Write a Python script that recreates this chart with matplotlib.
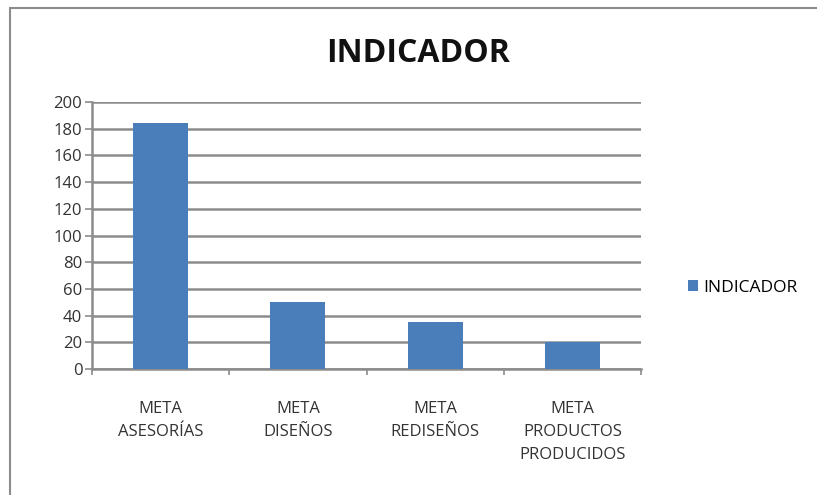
import matplotlib.pyplot as plt
from matplotlib.patches import Rectangle

categorias = ["META\nASESORÍAS", "META\nDISEÑOS", "META\nREDISEÑOS", "META\nPRODUCTOS\nPRODUCIDOS"]
indicador = [184, 50, 35, 20]
serie = "INDICADOR"

plt.rcParams["font.family"] = ["Open Sans", "DejaVu Sans"]

fig = plt.figure(figsize=(8.17, 4.95), dpi=100)
ax = fig.add_axes([92 / 817, 1 - 369 / 495, (641 - 92) / 817, (369 - 102) / 495])

x = range(len(categorias))
ax.bar(x, indicador, width=0.4, color="#4a7ebb", label=serie, zorder=3)

ax.set_xlim(-0.5, len(categorias) - 0.5)
ax.set_ylim(0, 200)
ax.set_yticks(range(0, 201, 20))
ax.yaxis.grid(True, color="#8c8c8c", linewidth=1.8, zorder=0)
ax.set_xticks(list(x))
ax.set_xticklabels(categorias, fontsize=12, color="#333333", linespacing=1.6)
ax.set_xticks([i + 0.5 for i in range(-1, len(categorias))], minor=True)
ax.tick_params(axis="x", which="major", length=0, pad=23)
ax.tick_params(axis="x", which="minor", length=4, width=1.2, color="#8c8c8c", direction="out")
ax.tick_params(axis="y", length=5, width=1.2, color="#8c8c8c", labelsize=12, labelcolor="#333333", pad=2)

for s in ["top", "right"]:
    ax.spines[s].set_visible(False)
for s in ["left", "bottom"]:
    ax.spines[s].set_color("#8c8c8c")
    ax.spines[s].set_linewidth(1.8)

fig.text(418 / 817, 1 - 53 / 495, "INDICADOR", ha="center", va="center",
         fontsize=23, fontweight="bold", color="#111111")

fig.legend(loc="center left", bbox_to_anchor=(672 / 817, 1 - 288 / 495), frameon=False,
           fontsize=12.5, handlelength=0.6, handleheight=0.6, handletextpad=0.3)

fig.patches.append(Rectangle((10 / 817, -0.01), 1.0, 1 - 8 / 495 + 0.01, transform=fig.transFigure,
                             fill=False, edgecolor="#8c8c8c", linewidth=1.5))

fig.savefig("out.png", dpi=100)
